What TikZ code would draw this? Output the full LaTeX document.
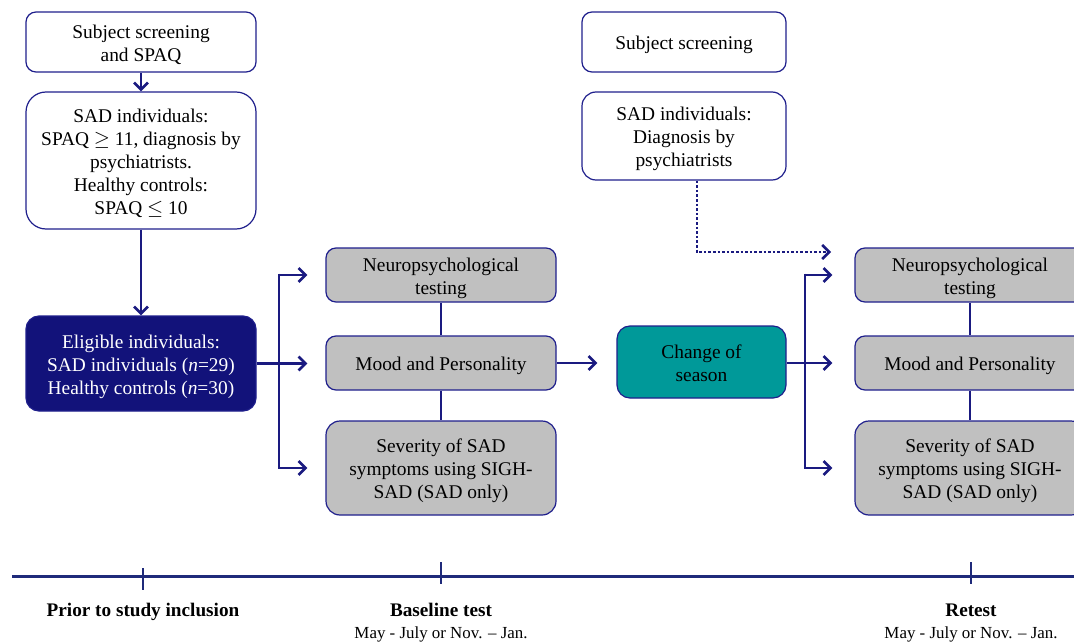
\documentclass[tikz,border=0pt]{standalone}
\usepackage{fontspec}
\setmainfont{Liberation Serif}
\usetikzlibrary{arrows.meta,calc}
\definecolor{navy}{HTML}{1F1F8C}
\definecolor{linec}{HTML}{1A1A80}
\definecolor{eligc}{HTML}{12127A}
\definecolor{grayc}{HTML}{C0C0C0}
\definecolor{tealc}{HTML}{009999}
\definecolor{timec}{HTML}{1F2A7A}
\newcommand{\boxtxt}[1]{\raisebox{-3.3pt}[\height][\depth]{\begin{tabular}{@{}c@{}}#1\end{tabular}}}
\tikzset{
  basebox/.style={draw=navy, line width=1.2pt, rounded corners=10pt, inner sep=0pt,
    font=\fontsize{19.4}{23}\selectfont},
  wbox/.style={basebox, fill=white},
  gbox/.style={basebox, fill=grayc},
  ebox/.style={basebox, fill=eligc, text=white, rounded corners=13pt},
  tbox/.style={basebox, fill=tealc, rounded corners=13pt},
  conn/.style={draw=linec, line width=2.6pt},
  arr/.style={conn, -{Straight Barb[length=7pt,width=14pt]}},
  tick/.style={draw=timec, line width=2pt},
  lbl/.style={font=\fontsize{19.2}{22}\selectfont\bfseries, anchor=base},
  sub/.style={font=\fontsize{16.9}{20}\selectfont, anchor=base}
}
\begin{document}
\begin{tikzpicture}[x=1pt,y=-1pt]
\useasboundingbox (0,0) rectangle (1074,642);
% left column
\node[wbox, minimum width=230pt, minimum height=60pt] (s1) at (141,42) {\boxtxt{Subject screening\\and SPAQ}};
\node[wbox, rounded corners=20pt, minimum width=230pt, minimum height=137pt] (s2) at (141,160.5)
  {\boxtxt{SAD individuals:\\SPAQ $\geq$ 11, diagnosis by\\psychiatrists.\\Healthy controls:\\SPAQ $\leq$ 10}};
\node[ebox, minimum width=230pt, minimum height=95pt] (el) at (141,363.5)
  {\boxtxt{Eligible individuals:\\SAD individuals (\textit{n}=29)\\Healthy controls (\textit{n}=30)}};
% baseline boxes
\node[gbox, minimum width=230pt, minimum height=54pt] (n1) at (441,275) {\boxtxt{Neuropsychological\\testing}};
\node[gbox, minimum width=230pt, minimum height=54pt] (m1) at (441,363) {\boxtxt{Mood and Personality}};
\node[gbox, rounded corners=14pt, minimum width=230pt, minimum height=94pt] (v1) at (441,468)
  {\boxtxt{Severity of SAD\\symptoms using SIGH-\\SAD (SAD only)}};
% change of season
\node[tbox, minimum width=169pt, minimum height=72pt] (cs) at (701.5,362) {\boxtxt{Change of\\season}};
% right top
\node[wbox, minimum width=204pt, minimum height=60pt] (r1) at (684,42) {\boxtxt{Subject screening}};
\node[wbox, rounded corners=14pt, minimum width=204pt, minimum height=88pt] (r2) at (684,136)
  {\boxtxt{SAD individuals:\\Diagnosis by\\psychiatrists}};
% retest boxes
\node[gbox, minimum width=230pt, minimum height=54pt] (n2) at (970,275) {\boxtxt{Neuropsychological\\testing}};
\node[gbox, minimum width=230pt, minimum height=54pt] (m2) at (970,363) {\boxtxt{Mood and Personality}};
\node[gbox, rounded corners=14pt, minimum width=230pt, minimum height=94pt] (v2) at (970,468)
  {\boxtxt{Severity of SAD\\symptoms using SIGH-\\SAD (SAD only)}};
% connectors
\draw[arr] (s1) -- (s2);
\draw[arr] (s2) -- (el);
\draw[conn] (n1) -- (m1);
\draw[conn] (m1) -- (v1);
\draw[conn] (n2) -- (m2);
\draw[conn] (m2) -- (v2);
% left bracket
\coordinate (bl) at (279,0);
\draw[arr, shorten >=18pt] (el.east) -- (m1.west |- el.east);
\draw[arr, shorten >=18pt] (bl |- n1.west) -- (n1.west);
\draw[arr, shorten >=18pt] (bl |- v1.west) -- (v1.west);
\draw[conn] ($(bl |- n1.west)+(0,-1.3)$) -- ($(bl |- v1.west)+(0,1.3)$);
% mood to change
\draw[arr, shorten >=19pt] (m1.east) -- (cs.west |- m1.east);
% right bracket
\coordinate (br) at (805,0);
\draw[arr, shorten >=22pt] (cs.east |- m2.west) -- (m2.west);
\draw[arr, shorten >=22pt] (br |- n2.west) -- (n2.west);
\draw[arr, shorten >=22pt] (br |- v2.west) -- (v2.west);
\draw[conn] ($(br |- n2.west)+(0,-1.3)$) -- ($(br |- v2.west)+(0,1.3)$);
% dotted
\coordinate (dk) at (697,252);
\coordinate (de) at (831,252);
\draw[arr, dotted] (r2.south -| dk) -- (dk) -- (de);
% timeline
\coordinate (t0) at (12,576);
\coordinate (t1) at (1074,576);
\draw[draw=timec, line width=3pt] (t0) -- (t1);
\coordinate (k1) at (143,568);
\coordinate (k1b) at (143,590);
\coordinate (k2) at (441,562);
\coordinate (k2b) at (441,584);
\coordinate (k3) at (971,562);
\coordinate (k3b) at (971,584);
\draw[tick] (k1) -- (k1b);
\draw[tick] (k2) -- (k2b);
\draw[tick] (k3) -- (k3b);
\node[lbl] (l1) at (143,616) {Prior to study inclusion};
\node[lbl] (l2) at (441,616) {Baseline test};
\node[sub] (l2b) at (441,638) {May - July or Nov. -- Jan.};
\node[lbl] (l3) at (971,616) {Retest};
\node[sub] (l3b) at (971,638) {May - July or Nov. -- Jan.};
\end{tikzpicture}
\end{document}
